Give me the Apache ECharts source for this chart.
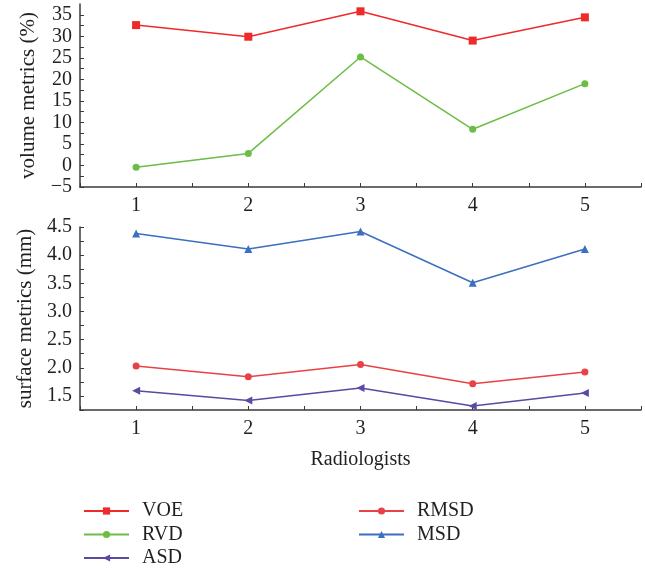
<!DOCTYPE html>
<html>
<head>
<meta charset="utf-8">
<script src="https://cdn.jsdelivr.net/npm/echarts@6/dist/echarts.min.js"></script>
<style>
html,body{margin:0;padding:0;background:#fff;}
#chart{width:645px;height:569px;}
</style>
</head>
<body>
<div id="chart"></div>
<script>
const categories = [1, 2, 3, 4, 5];
const voe = [32.6, 29.9, 35.8, 29.0, 34.4];
const rvd = [-0.4, 2.8, 25.2, 8.4, 19.0];
const rmsd = [2.03, 1.84, 2.06, 1.715, 1.925];
const msd = [4.385, 4.11, 4.42, 3.51, 4.11];
const asd = [1.59, 1.42, 1.64, 1.32, 1.55];

const pairs = arr => categories.map((c, i) => [c, arr[i]]);
const FONT = 'Liberation Serif';
const TXT = '#231f20';
const AX = '#3a3a3a';

const xAxisBase = (idx) => ({
  type: 'value', gridIndex: idx, min: 0.5, max: 5.5, interval: 0.5,
  axisLine: {show: true, onZero: false, lineStyle: {color: AX, width: 1.5}},
  axisTick: {show: true, inside: true, length: 4, lineStyle: {color: AX}},
  splitLine: {show: false},
  axisLabel: {
    color: TXT, fontFamily: FONT, fontSize: 20, margin: 9,
    formatter: v => (Math.abs(v - Math.round(v)) < 1e-6 ? String(Math.round(v)) : '')
  }
});

const legendBase = {
  top: 496, orient: 'vertical', itemWidth: 45, itemHeight: 9, itemGap: 3.5, height: 75,
  textStyle: {color: TXT, fontFamily: FONT, fontSize: 20, padding: [0, 0, 0, 8]}
};

const chart = echarts.init(document.getElementById('chart'), null, {renderer: 'canvas'});
chart.setOption({
  animation: false,
  backgroundColor: '#fff',
  grid: [
    {left: 80, top: 4, right: 4, height: 183},
    {left: 80, top: 227, right: 4, height: 183}
  ],
  xAxis: [
    xAxisBase(0),
    Object.assign(xAxisBase(1), {
      name: 'Radiologists', nameLocation: 'middle', nameGap: 40,
      nameTextStyle: {color: TXT, fontFamily: FONT, fontSize: 20}
    })
  ],
  yAxis: [
    {
      type: 'value', gridIndex: 0, min: -5, max: 37.5, interval: 2.5,
      name: 'volume metrics (%)', nameLocation: 'middle', nameGap: 41,
      nameTextStyle: {color: TXT, fontFamily: FONT, fontSize: 21},
      axisLine: {show: true, onZero: false, lineStyle: {color: AX, width: 1.5}},
      axisTick: {show: true, inside: true, length: 4, lineStyle: {color: AX}},
      splitLine: {show: false},
      axisLabel: {
        color: TXT, fontFamily: FONT, fontSize: 20, margin: 8, showMaxLabel: false,
        formatter: v => (Math.abs(v / 5 - Math.round(v / 5)) < 1e-6 ? String(Math.round(v)).replace('-', '\u2212') : '')
      }
    },
    {
      type: 'value', gridIndex: 1, min: 1.25, max: 4.5, interval: 0.25,
      name: 'surface metrics (mm)', nameLocation: 'middle', nameGap: 44,
      nameTextStyle: {color: TXT, fontFamily: FONT, fontSize: 21},
      axisLine: {show: true, onZero: false, lineStyle: {color: AX, width: 1.5}},
      axisTick: {show: true, inside: true, length: 4, lineStyle: {color: AX}},
      splitLine: {show: false},
      axisLabel: {
        color: TXT, fontFamily: FONT, fontSize: 20, margin: 8,
        formatter: v => (Math.abs(v * 2 - Math.round(v * 2)) < 1e-6 ? v.toFixed(1) : '')
      }
    }
  ],
  legend: [
    Object.assign({left: 78, data: ['VOE', 'RVD', 'ASD']}, legendBase),
    Object.assign({left: 353, data: ['RMSD', 'MSD']}, legendBase)
  ],
  series: [
    {name: 'VOE', type: 'line', xAxisIndex: 0, yAxisIndex: 0, data: pairs(voe),
     symbol: 'rect', symbolSize: 8, color: '#ee2a2b', lineStyle: {width: 1.5}},
    {name: 'RVD', type: 'line', xAxisIndex: 0, yAxisIndex: 0, data: pairs(rvd),
     symbol: 'circle', symbolSize: 7, color: '#6cbd45', lineStyle: {width: 1.5}},
    {name: 'ASD', type: 'line', xAxisIndex: 1, yAxisIndex: 1, data: pairs(asd),
     symbol: 'triangle', symbolRotate: 90, symbolSize: 8, color: '#5d48a3', lineStyle: {width: 1.5}},
    {name: 'RMSD', type: 'line', xAxisIndex: 1, yAxisIndex: 1, data: pairs(rmsd),
     symbol: 'circle', symbolSize: 7, color: '#e94246', lineStyle: {width: 1.5}},
    {name: 'MSD', type: 'line', xAxisIndex: 1, yAxisIndex: 1, data: pairs(msd),
     symbol: 'triangle', symbolSize: 8, color: '#3b6fbf', lineStyle: {width: 1.5}}
  ]
});
</script>
</body>
</html>
